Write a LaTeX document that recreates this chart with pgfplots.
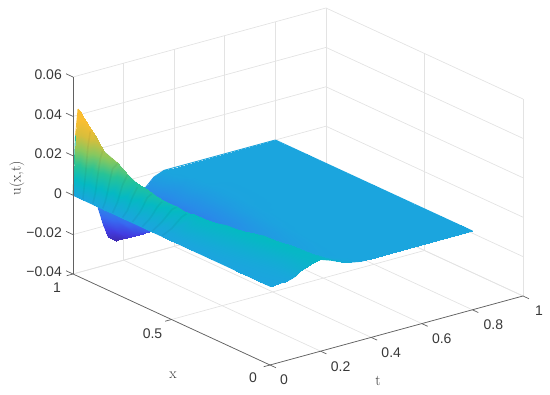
\documentclass[border=0pt]{standalone}
\usepackage{fontspec}
\setsansfont{Liberation Sans}
\usepackage{pgfplots}
\pgfplotsset{compat=1.18}
\definecolor{axc}{gray}{0.38}
\definecolor{txc}{gray}{0.22}
\definecolor{zeroc}{RGB}{27,165,222}
\begin{document}
\begin{tikzpicture}[x=1pt,y=1pt]
\path[use as bounding box] (0,0) rectangle (550,395);
\begin{axis}[
  at={(270pt,108.8pt)},anchor=origin,
  x={(253pt,69pt)},y={(-197pt,91pt)},z={(0pt,1970pt)},
  xmin=0,xmax=1,ymin=0,ymax=1,zmin=-0.04,zmax=0.06,
  clip=false,
  xtick={0,0.2,0.4,0.6,0.8,1},ytick={0,0.5,1},ztick={-0.04,-0.02,0,0.02,0.04,0.06},
  xticklabels={},yticklabels={},zticklabels={},
  scaled x ticks=false,scaled y ticks=false,scaled z ticks=false,
  major tick length=0pt,
  axis line style={draw=none},
  grid=major,
  grid style={line width=0.7pt,draw=black!11},
  colormap={ref}{
    rgb255(0cm)=(62,38,168);
    rgb255(1cm)=(66,60,225);
    rgb255(2cm)=(55,105,240);
    rgb255(3cm)=(40,140,232);
    rgb255(4cm)=(27,165,222);
    rgb255(5cm)=(5,185,195);
    rgb255(6cm)=(40,195,150);
    rgb255(7cm)=(135,200,95);
    rgb255(8cm)=(215,190,60);
    rgb255(9cm)=(250,190,50);
    rgb255(10cm)=(252,188,45)},
  point meta min=-0.03,point meta max=0.045,
]
% far edges, under the surface
\addplot3[mesh,line width=0.9pt] coordinates {(0,1,0)(.01,1,.03)(.02,1,.043)(.03,1,.041)(.04,1,.034)(.06,1,.017)(.08,1,.004)(.1,1,-.01)(.12,1,-.019)(.14,1,-.026)(.17,1,-.029)(.2,1,-.026)(.24,1,-.016)(.28,1,-.007)(.32,1,-.002)(.36,1,0)(.4,1,0)(.5,1,0)(.8,1,0)};
\addplot3[zeroc,line width=0.9pt] coordinates {(.8,1,0)(.8,0,0)};
\addplot3[surf,shader=interp,mesh/ordering=x varies,mesh/cols=19,z buffer=reverse x seq] coordinates {
(0,1,0)(.01,1,.03)(.02,1,.043)(.03,1,.041)(.04,1,.034)(.06,1,.017)(.08,1,.004)(.1,1,-.01)(.12,1,-.019)(.14,1,-.026)(.17,1,-.029)(.2,1,-.026)(.24,1,-.016)(.28,1,-.007)(.32,1,-.002)(.36,1,0)(.4,1,0)(.5,1,0)(.8,1,0)
(0,.992,0)(.01,.992,.008)(.02,.992,.017)(.03,.992,.0399)(.04,.992,.0338)(.06,.992,.0176)(.08,.992,.0046)(.1,.992,-.009)(.12,.992,-.0182)(.14,.992,-.0215)(.17,.992,-.0284)(.2,.992,-.0257)(.24,.992,-.014)(.28,.992,-.0073)(.32,.992,-.0022)(.36,.992,0)(.4,.992,0)(.5,.992,0)(.8,.992,0)
(0,.95,0)(.01,.95,.012)(.02,.95,.026)(.03,.95,.034)(.04,.95,.033)(.06,.95,.021)(.08,.95,.008)(.1,.95,-.004)(.12,.95,-.014)(.14,.95,-.021)(.17,.95,-.0255)(.2,.95,-.024)(.24,.95,-.017)(.28,.95,-.0095)(.32,.95,-.0035)(.36,.95,-.0004)(.4,.95,0)(.5,.95,0)(.8,.95,0)
(0,.942,0)(.01,.942,.0033)(.02,.942,.009)(.03,.942,.0143)(.04,.942,.0319)(.06,.942,.021)(.08,.942,.0085)(.1,.942,-.0034)(.12,.942,-.0132)(.14,.942,-.017)(.17,.942,-.0248)(.2,.942,-.0237)(.24,.942,-.015)(.28,.942,-.0105)(.32,.942,-.004)(.36,.942,-.0005)(.4,.942,0)(.5,.942,0)(.8,.942,0)
(0,.9,0)(.01,.9,.005)(.02,.9,.014)(.03,.9,.022)(.04,.9,.026)(.06,.9,.021)(.08,.9,.011)(.1,.9,0)(.12,.9,-.009)(.14,.9,-.016)(.17,.9,-.021)(.2,.9,-.022)(.24,.9,-.0185)(.28,.9,-.012)(.32,.9,-.006)(.36,.9,-.002)(.4,.9,0)(.5,.9,0)(.8,.9,0)
(0,.892,0)(.01,.892,.002)(.02,.892,.0052)(.03,.892,.0091)(.04,.892,.0255)(.06,.892,.021)(.08,.892,.0113)(.1,.892,.0006)(.12,.892,-.0084)(.14,.892,-.012)(.17,.892,-.0204)(.2,.892,-.0214)(.24,.892,-.015)(.28,.892,-.012)(.32,.892,-.006)(.36,.892,-.002)(.4,.892,0)(.5,.892,0)(.8,.892,0)
(0,.85,0)(.01,.85,.003)(.02,.85,.008)(.03,.85,.014)(.04,.85,.019)(.06,.85,.021)(.08,.85,.013)(.1,.85,.004)(.12,.85,-.005)(.14,.85,-.011)(.17,.85,-.017)(.2,.85,-.018)(.24,.85,-.016)(.28,.85,-.012)(.32,.85,-.006)(.36,.85,-.002)(.4,.85,0)(.5,.85,0)(.8,.85,0)
(0,.842,0)(.01,.842,.0013)(.02,.842,.0033)(.03,.842,.0058)(.04,.842,.0085)(.06,.842,.0204)(.08,.842,.0132)(.1,.842,.0045)(.12,.842,-.0043)(.14,.842,-.008)(.17,.842,-.0164)(.2,.842,-.0175)(.24,.842,-.013)(.28,.842,-.0118)(.32,.842,-.0062)(.36,.842,-.0022)(.4,.842,-.0001)(.5,.842,0)(.8,.842,0)
(0,.8,0)(.01,.8,.002)(.02,.8,.005)(.03,.8,.009)(.04,.8,.013)(.06,.8,.0175)(.08,.8,.014)(.1,.8,.007)(.12,.8,-.001)(.14,.8,-.007)(.17,.8,-.013)(.2,.8,-.015)(.24,.8,-.0145)(.28,.8,-.011)(.32,.8,-.007)(.36,.8,-.003)(.4,.8,-.0005)(.5,.8,0)(.8,.8,0)
(0,.792,0)(.01,.792,.0007)(.02,.792,.002)(.03,.792,.0039)(.04,.792,.0059)(.06,.792,.0088)(.08,.792,.0139)(.1,.792,.0072)(.12,.792,-.0005)(.14,.792,-.005)(.17,.792,-.0125)(.2,.792,-.0146)(.24,.792,-.012)(.28,.792,-.011)(.32,.792,-.007)(.36,.792,-.003)(.4,.792,-.0005)(.5,.792,0)(.8,.792,0)
(0,.75,0)(.01,.75,.001)(.02,.75,.003)(.03,.75,.006)(.04,.75,.009)(.06,.75,.0135)(.08,.75,.0135)(.1,.75,.0085)(.12,.75,.002)(.14,.75,-.004)(.17,.75,-.01)(.2,.75,-.0125)(.24,.75,-.013)(.28,.75,-.011)(.32,.75,-.007)(.36,.75,-.003)(.4,.75,-.0005)(.5,.75,0)(.8,.75,0)
(0,.742,0)(.01,.742,.0006)(.02,.742,.0013)(.03,.742,.0026)(.04,.742,.0039)(.06,.742,.0068)(.08,.742,.0133)(.1,.742,.0086)(.12,.742,.0023)(.14,.742,-.0035)(.17,.742,-.0095)(.2,.742,-.0121)(.24,.742,-.0127)(.28,.742,-.0108)(.32,.742,-.007)(.36,.742,-.003)(.4,.742,-.0005)(.5,.742,0)(.8,.742,0)
(0,.7,0)(.01,.7,.001)(.02,.7,.002)(.03,.7,.004)(.04,.7,.006)(.06,.7,.0105)(.08,.7,.012)(.1,.7,.009)(.12,.7,.004)(.14,.7,-.001)(.17,.7,-.007)(.2,.7,-.01)(.24,.7,-.0115)(.28,.7,-.0105)(.32,.7,-.007)(.36,.7,-.003)(.4,.7,-.0005)(.5,.7,0)(.8,.7,0)
(0,.692,0)(.01,.692,.0003)(.02,.692,.001)(.03,.692,.002)(.04,.692,.0029)(.06,.692,.0052)(.08,.692,.0115)(.1,.692,.009)(.12,.692,.0042)(.14,.692,-.0007)(.17,.692,-.0066)(.2,.692,-.0096)(.24,.692,-.0112)(.28,.692,-.0103)(.32,.692,-.0069)(.36,.692,-.0029)(.4,.692,-.0005)(.5,.692,0)(.8,.692,0)
(0,.65,0)(.01,.65,.0005)(.02,.65,.0015)(.03,.65,.003)(.04,.65,.0045)(.06,.65,.008)(.08,.65,.0102)(.1,.65,.009)(.12,.65,.0055)(.14,.65,.001)(.17,.65,-.004)(.2,.65,-.0075)(.24,.65,-.0095)(.28,.65,-.0095)(.32,.65,-.0065)(.36,.65,-.0025)(.4,.65,-.0004)(.5,.65,0)(.8,.65,0)
(0,.642,0)(.01,.642,.0002)(.02,.642,.0007)(.03,.642,.0013)(.04,.642,.0022)(.06,.642,.0039)(.08,.642,.0068)(.1,.642,.009)(.12,.642,.0056)(.14,.642,.0013)(.17,.642,-.0037)(.2,.642,-.0072)(.24,.642,-.0093)(.28,.642,-.0094)(.32,.642,-.0064)(.36,.642,-.0024)(.4,.642,-.0004)(.5,.642,0)(.8,.642,0)
(0,.6,0)(.01,.6,.0004)(.02,.6,.001)(.03,.6,.002)(.04,.6,.0035)(.06,.6,.006)(.08,.6,.0085)(.1,.6,.009)(.12,.6,.0065)(.14,.6,.003)(.17,.6,-.002)(.2,.6,-.0055)(.24,.6,-.008)(.28,.6,-.0085)(.32,.6,-.006)(.36,.6,-.002)(.4,.6,-.0003)(.5,.6,0)(.8,.6,0)
(0,.592,0)(.01,.592,.0002)(.02,.592,.0005)(.03,.592,.001)(.04,.592,.0016)(.06,.592,.0031)(.08,.592,.0047)(.1,.592,.0075)(.12,.592,.0066)(.14,.592,.0032)(.17,.592,-.0018)(.2,.592,-.0052)(.24,.592,-.0078)(.28,.592,-.0084)(.32,.592,-.0059)(.36,.592,-.0019)(.4,.592,-.0003)(.5,.592,0)(.8,.592,0)
(0,.55,0)(.01,.55,.0003)(.02,.55,.0008)(.03,.55,.0015)(.04,.55,.0025)(.06,.55,.0048)(.08,.55,.007)(.1,.55,.008)(.12,.55,.0072)(.14,.55,.0045)(.17,.55,.0002)(.2,.55,-.0035)(.24,.55,-.0065)(.28,.55,-.0072)(.32,.55,-.005)(.36,.55,-.0015)(.4,.55,-.0002)(.5,.55,0)(.8,.55,0)
(0,.542,0)(.01,.542,.0001)(.02,.542,.0004)(.03,.542,.0008)(.04,.542,.0013)(.06,.542,.0025)(.08,.542,.0036)(.1,.542,.0064)(.12,.542,.0072)(.14,.542,.0047)(.17,.542,.0005)(.2,.542,-.0032)(.24,.542,-.0063)(.28,.542,-.007)(.32,.542,-.0048)(.36,.542,-.0014)(.4,.542,-.0002)(.5,.542,0)(.8,.542,0)
(0,.5,0)(.01,.5,.0002)(.02,.5,.0006)(.03,.5,.0012)(.04,.5,.002)(.06,.5,.0038)(.08,.5,.0055)(.1,.5,.0068)(.12,.5,.0072)(.14,.5,.0056)(.17,.5,.002)(.2,.5,-.002)(.24,.5,-.0052)(.28,.5,-.006)(.32,.5,-.004)(.36,.5,-.001)(.4,.5,-.0001)(.5,.5,0)(.8,.5,0)
(0,.45,0)(.01,.45,.0002)(.02,.45,.0005)(.03,.45,.001)(.04,.45,.0015)(.06,.45,.003)(.08,.45,.0046)(.1,.45,.006)(.12,.45,.0072)(.14,.45,.0065)(.17,.45,.0035)(.2,.45,-.0005)(.24,.45,-.0042)(.28,.45,-.005)(.32,.45,-.0032)(.36,.45,-.0007)(.4,.45,0)(.5,.45,0)(.8,.45,0)
(0,.4,0)(.01,.4,.0001)(.02,.4,.0004)(.03,.4,.0008)(.04,.4,.0012)(.06,.4,.0024)(.08,.4,.0038)(.1,.4,.0052)(.12,.4,.0068)(.14,.4,.0074)(.17,.4,.0048)(.2,.4,.001)(.24,.4,-.0032)(.28,.4,-.004)(.32,.4,-.0024)(.36,.4,-.0004)(.4,.4,0)(.5,.4,0)(.8,.4,0)
(0,.35,0)(.01,.35,.0001)(.02,.35,.0003)(.03,.35,.0006)(.04,.35,.001)(.06,.35,.002)(.08,.35,.0032)(.1,.35,.0046)(.12,.35,.0062)(.14,.35,.0076)(.17,.35,.006)(.2,.35,.0024)(.24,.35,-.0022)(.28,.35,-.0032)(.32,.35,-.0018)(.36,.35,-.0002)(.4,.35,0)(.5,.35,0)(.8,.35,0)
(0,.3,0)(.01,.3,.0001)(.02,.3,.0002)(.03,.3,.0005)(.04,.3,.0008)(.06,.3,.0016)(.08,.3,.0027)(.1,.3,.004)(.12,.3,.0055)(.14,.3,.0072)(.17,.3,.0072)(.2,.3,.0038)(.24,.3,-.0012)(.28,.3,-.0024)(.32,.3,-.0012)(.36,.3,-.0001)(.4,.3,0)(.5,.3,0)(.8,.3,0)
(0,.25,0)(.01,.25,0)(.02,.25,.0002)(.03,.25,.0004)(.04,.25,.0006)(.06,.25,.0013)(.08,.25,.0022)(.1,.25,.0034)(.12,.25,.0048)(.14,.25,.0066)(.17,.25,.008)(.2,.25,.005)(.24,.25,0)(.28,.25,-.0017)(.32,.25,-.0008)(.36,.25,0)(.4,.25,0)(.5,.25,0)(.8,.25,0)
(0,.2,0)(.01,.2,0)(.02,.2,.0001)(.03,.2,.0003)(.04,.2,.0005)(.06,.2,.001)(.08,.2,.0018)(.1,.2,.0028)(.12,.2,.0042)(.14,.2,.0058)(.17,.2,.008)(.2,.2,.0062)(.24,.2,.0012)(.28,.2,-.0011)(.32,.2,-.0005)(.36,.2,0)(.4,.2,0)(.5,.2,0)(.8,.2,0)
(0,.15,0)(.01,.15,0)(.02,.15,.0001)(.03,.15,.0002)(.04,.15,.0004)(.06,.15,.0008)(.08,.15,.0014)(.1,.15,.0023)(.12,.15,.0035)(.14,.15,.005)(.17,.15,.0074)(.2,.15,.0068)(.24,.15,.0025)(.28,.15,-.0005)(.32,.15,-.0003)(.36,.15,0)(.4,.15,0)(.5,.15,0)(.8,.15,0)
(0,.1,0)(.01,.1,0)(.02,.1,0)(.03,.1,.0002)(.04,.1,.0003)(.06,.1,.0006)(.08,.1,.0011)(.1,.1,.0018)(.12,.1,.0029)(.14,.1,.0042)(.17,.1,.0066)(.2,.1,.0069)(.24,.1,.0036)(.28,.1,.0006)(.32,.1,-.0002)(.36,.1,0)(.4,.1,0)(.5,.1,0)(.8,.1,0)
(0,.05,0)(.01,.05,0)(.02,.05,0)(.03,.05,.0001)(.04,.05,.0002)(.06,.05,.0004)(.08,.05,.0008)(.1,.05,.0015)(.12,.05,.0032)(.14,.05,.0044)(.17,.05,.0062)(.2,.05,.0068)(.24,.05,.0046)(.28,.05,.0018)(.32,.05,.0004)(.36,.05,0)(.4,.05,0)(.5,.05,0)(.8,.05,0)
(0,0,0)(.01,0,0)(.02,0,0)(.03,0,0)(.04,0,.0001)(.06,0,.0002)(.08,0,.0006)(.1,0,.0015)(.12,0,.0034)(.14,0,.0045)(.17,0,.006)(.2,0,.0066)(.24,0,.0048)(.28,0,.0026)(.32,0,.001)(.36,0,0)(.4,0,0)(.5,0,0)(.8,0,0)
};
% ribs on the front face of the ridge
\pgfplotsset{rib/.style={black,opacity=0.045,line width=1.6pt}}
\addplot3[rib] coordinates {(0,.95,0)(.01,.95,.012)(.02,.95,.026)(.03,.95,.034)};
\addplot3[rib] coordinates {(0,.9,0)(.01,.9,.005)(.02,.9,.014)(.03,.9,.022)(.04,.9,.026)};
\addplot3[rib] coordinates {(0,.85,0)(.01,.85,.003)(.02,.85,.008)(.03,.85,.014)(.04,.85,.019)(.06,.85,.021)};
\addplot3[rib] coordinates {(0,.8,0)(.02,.8,.005)(.03,.8,.009)(.04,.8,.013)(.06,.8,.0175)};
\addplot3[rib] coordinates {(0,.75,0)(.02,.75,.003)(.03,.75,.006)(.04,.75,.009)(.06,.75,.0135)};
\addplot3[rib] coordinates {(0,.7,0)(.03,.7,.004)(.04,.7,.006)(.06,.7,.0105)(.08,.7,.012)};
\addplot3[rib] coordinates {(0,.65,0)(.03,.65,.003)(.04,.65,.0045)(.06,.65,.008)(.08,.65,.0102)};
\addplot3[rib] coordinates {(0,.6,0)(.04,.6,.0035)(.06,.6,.006)(.08,.6,.0085)(.1,.6,.009)};
\addplot3[rib] coordinates {(0,.55,0)(.04,.55,.0025)(.06,.55,.0048)(.08,.55,.007)(.1,.55,.008)};
% near edges and crest, over the surface
\addplot3[zeroc,line width=0.9pt] coordinates {(0,1,0)(0,0,0)};
\addplot3[mesh,line width=0.9pt] coordinates {(0,0,0)(.06,0,.0002)(.08,0,.0006)(.1,0,.0015)(.12,0,.0034)(.14,0,.0045)(.17,0,.006)(.2,0,.0066)(.24,0,.0048)(.28,0,.0026)(.32,0,.001)(.36,0,0)(.4,0,0)(.5,0,0)(.8,0,0)};
\addplot3[mesh,line width=0.8pt] coordinates {(.02,1,.043)(.03,.992,.0399)(.03,.95,.034)(.04,.942,.0319)(.04,.9,.026)(.04,.892,.0255)(.06,.85,.021)(.06,.842,.0204)(.06,.8,.0175)(.08,.792,.0139)(.07,.75,.0135)(.08,.7,.012)(.08,.65,.0102)(.1,.6,.009)(.1,.55,.008)(.12,.5,.0072)(.12,.45,.0072)(.14,.4,.0074)(.14,.35,.0076)(.15,.3,.0076)(.17,.25,.008)(.17,.2,.008)};
% axis lines and ticks
\draw[axc,line width=0.7pt] (axis cs:0,0,-0.04)--(axis cs:1,0,-0.04);
\draw[axc,line width=0.7pt] (axis cs:0,0,-0.04)--(axis cs:0,1,-0.04);
\draw[axc,line width=0.7pt] (axis cs:0,1,-0.04)--(axis cs:0,1,0.06);
\pgfplotsinvokeforeach{0,0.2,0.4,0.6,0.8,1}{\draw[axc,line width=0.7pt] (axis cs:#1,0,-0.04)--(axis cs:#1,-0.03,-0.04);}
\pgfplotsinvokeforeach{0,0.5,1}{\draw[axc,line width=0.7pt] (axis cs:0,#1,-0.04)--(axis cs:-0.025,#1,-0.04);}
\pgfplotsinvokeforeach{-0.04,-0.02,0,0.02,0.04,0.06}{\draw[axc,line width=0.7pt] (axis cs:0,1,#1)--(axis cs:0,1.035,#1);}
% tick labels
\begin{scope}[every node/.style={font=\fontsize{14}{16}\selectfont\sffamily,text=txc,inner sep=0pt}]
\node[anchor=east] at ([shift={(-11pt,2pt)}]axis cs:0,1,0.06) {0.06};
\node[anchor=east] at ([shift={(-11pt,2pt)}]axis cs:0,1,0.04) {0.04};
\node[anchor=east] at ([shift={(-11pt,2pt)}]axis cs:0,1,0.02) {0.02};
\node[anchor=east] at ([shift={(-11pt,2pt)}]axis cs:0,1,0) {0};
\node[anchor=east] at ([shift={(-11pt,2pt)}]axis cs:0,1,-0.02) {−0.02};
\node[anchor=east] at ([shift={(-11pt,2pt)}]axis cs:0,1,-0.04) {−0.04};
\node at ([shift={(-16pt,-14pt)}]axis cs:0,1,-0.04) {1};
\node at ([shift={(-19pt,-14pt)}]axis cs:0,0.5,-0.04) {0.5};
\node at ([shift={(-17pt,-13pt)}]axis cs:0,0,-0.04) {0};
\node at ([shift={(14pt,-15pt)}]axis cs:0,0,-0.04) {0};
\node at ([shift={(20pt,-15pt)}]axis cs:0.2,0,-0.04) {0.2};
\node at ([shift={(20pt,-15pt)}]axis cs:0.4,0,-0.04) {0.4};
\node at ([shift={(20pt,-15pt)}]axis cs:0.6,0,-0.04) {0.6};
\node at ([shift={(21pt,-15pt)}]axis cs:0.8,0,-0.04) {0.8};
\node at ([shift={(16pt,-15pt)}]axis cs:1,0,-0.04) {1};
\end{scope}
\begin{scope}[every node/.style={font=\fontsize{15}{16}\selectfont,text=txc,inner sep=0pt}]
\node at ([shift={(-97pt,-10pt)}]axis cs:0,0,-0.04) {x};
\node at ([shift={(108pt,-16pt)}]axis cs:0,0,-0.04) {t};
\node[rotate=90] at ([shift={(-56pt,17pt)}]axis cs:0,1,0) {u(x,t)};
\end{scope}
\end{axis}
\end{tikzpicture}
\end{document}
